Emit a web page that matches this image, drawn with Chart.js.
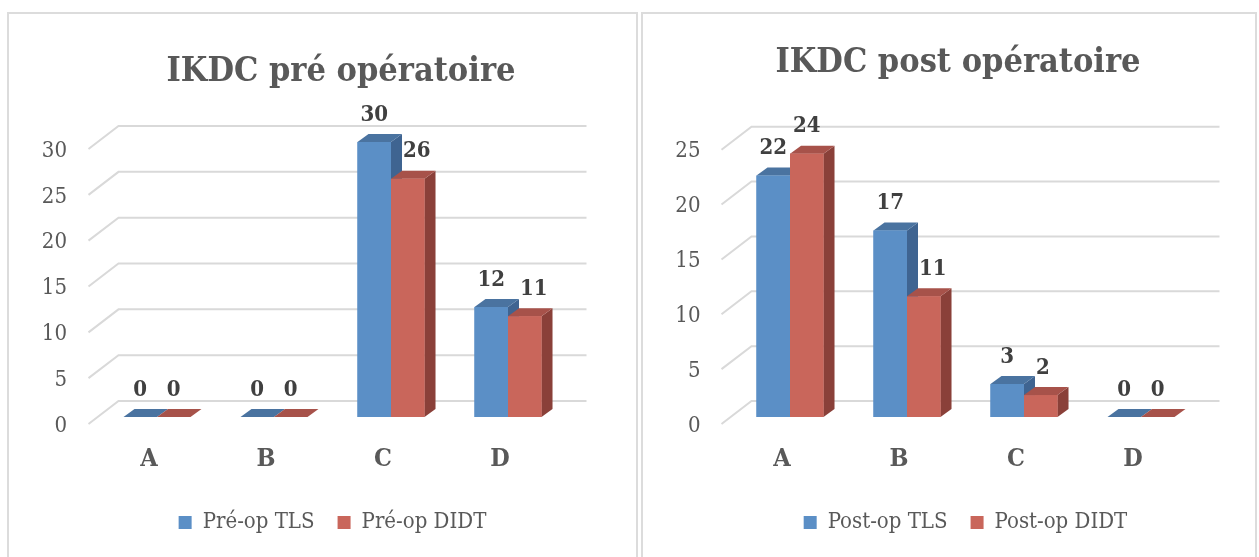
<!DOCTYPE html>
<html lang="fr">
<head>
<meta charset="utf-8">
<title>IKDC pré / post opératoire</title>
<script src="https://cdn.jsdelivr.net/npm/chart.js@4.4.1/dist/chart.umd.min.js"></script>
<style>
    html, body { margin: 0; padding: 0; background: #fff; width: 1259px; height: 557px; overflow: hidden; }
    .frame { position: absolute; top: 12px; height: 600px; border: 2px solid #dcdcdc; box-sizing: border-box; }
    .wrap { position: absolute; top: 0; height: 557px; }
</style>
</head>
<body>
<div class="frame" style="left:7px; width:631px;"></div>
<div class="frame" style="left:641px; width:616px;"></div>
<div class="wrap" style="left:0; width:682px;"><canvas id="preChart"></canvas></div>
<div class="wrap" style="left:640px; width:619px;"><canvas id="postChart"></canvas></div>
<script>
const categories = ['A', 'B', 'C', 'D'];
const preTLS = [0, 0, 30, 12];
const preDIDT = [0, 0, 26, 11];
const postTLS = [22, 17, 3, 0];
const postDIDT = [24, 11, 2, 0];
const preTicks = [0, 5, 10, 15, 20, 25, 30];
const postTicks = [0, 5, 10, 15, 20, 25];

const FONT = "'DejaVu Serif Condensed', 'DejaVu Serif', serif";
const BLUE = { front: '#5b8fc6', top: '#4a73a0', side: '#3f6491' };
const RED = { front: '#c9665b', top: '#a7524a', side: '#8a4039' };
const BAR_DEPTH = [11, -8];   // top/side faces of the bars
const WALL_BACK = [20, -16];  // back wall grid lines
const WALL_FRONT = [-10, 7];  // front end of the floor diagonals

Chart.defaults.font.family = FONT;
Chart.defaults.color = '#595959';

// fake 3D: back wall grid + extruded bars + value labels
const fake3d = {
    id: 'fake3d',
    beforeDatasetsDraw(chart) {
        const { ctx, chartArea: area, scales: { y } } = chart;
        ctx.save();
        ctx.strokeStyle = '#d9d9d9';
        ctx.lineWidth = 2;
        y.ticks.forEach(t => {
            const py = y.getPixelForValue(t.value);
            ctx.beginPath();
            ctx.moveTo(area.left + WALL_FRONT[0], py + WALL_FRONT[1]);
            ctx.lineTo(area.left + WALL_BACK[0], py + WALL_BACK[1]);
            ctx.lineTo(area.right + WALL_BACK[0], py + WALL_BACK[1]);
            ctx.stroke();
        });
        ctx.restore();
    },
    afterDatasetsDraw(chart) {
        const ctx = chart.ctx;
        const [dx, dy] = BAR_DEPTH;
        const sets = chart.data.datasets;
        const face = (pts, color) => {
            ctx.beginPath();
            ctx.moveTo(pts[0][0], pts[0][1]);
            pts.slice(1).forEach(p => ctx.lineTo(p[0], p[1]));
            ctx.closePath();
            ctx.fillStyle = color;
            ctx.fill();
        };
        ctx.save();
        chart.data.labels.forEach((label, j) => {
            sets.forEach((ds, i) => {
                const bar = chart.getDatasetMeta(i).data[j];
                const { x, y, base, width } = bar.getProps(['x', 'y', 'base', 'width'], true);
                const l = x - width / 2, r = x + width / 2;
                face([[r, y], [r + dx, y + dy], [r + dx, base + dy], [r, base]], ds.shade.side);
                face([[l, y], [l + dx, y + dy], [r + dx, y + dy], [r, y]], ds.shade.top);
                ctx.fillStyle = ds.shade.front;
                ctx.fillRect(l, y, width, base - y);
            });
        });

        ctx.font = 'bold 22px ' + FONT;
        ctx.fillStyle = '#404040';
        ctx.textAlign = 'center';
        ctx.textBaseline = 'middle';
        chart.data.labels.forEach((label, j) => {
            sets.forEach((ds, i) => {
                const bar = chart.getDatasetMeta(i).data[j];
                const text = String(ds.data[j]);
                const w = ctx.measureText(text).width;
                let tx = bar.x, ty = bar.y - 27;
                if (i > 0) {
                    // push the label right when it would sit on the taller neighbour
                    const prev = chart.getDatasetMeta(i - 1).data[j];
                    const edge = prev.x + prev.width / 2 + dx;
                    if (ty + 11 > prev.y + dy && tx - w / 2 < edge) tx = edge + w / 2 + 1;
                }
                ctx.fillText(text, tx, ty);
            });
        });
        ctx.restore();
    }
};

document.addEventListener("DOMContentLoaded", function () {
    // BAR CHART - IKDC pre-op
    new Chart(document.getElementById('preChart'), {
        type: 'bar',
        data: {
            labels: categories,
            datasets: [
                { label: 'Pré-op TLS', data: preTLS, backgroundColor: BLUE.front, shade: BLUE },
                { label: 'Pré-op DIDT', data: preDIDT, backgroundColor: RED.front, shade: RED }
            ]
        },
        options: {
            responsive: true,
            maintainAspectRatio: false,
            animation: false,
            layout: { padding: { left: 0, right: 0, top: 0, bottom: 13.5 } },
            datasets: { bar: { categoryPercentage: 0.573, barPercentage: 1, borderWidth: 0 } },
            plugins: {
                title: {
                    display: true,
                    text: 'IKDC pré opératoire',
                    color: '#595959',
                    font: { size: 34, weight: 'bold', lineHeight: 1.2 },
                    padding: { top: 51.6, bottom: 49.6 }
                },
                legend: {
                    position: 'bottom',
                    fullSize: false,
                    labels: { boxWidth: 13, boxHeight: 13, padding: 23, color: '#595959', font: { size: 22 } }
                },
                tooltip: { enabled: false }
            },
            scales: {
                x: {
                    grid: { display: false, drawTicks: false },
                    border: { display: false },
                    ticks: { color: '#595959', font: { size: 25, weight: 'bold' }, padding: 27, labelOffset: -8 },
                    afterFit: s => { s.height = 71.5; }
                },
                y: {
                    min: 0,
                    max: 30,
                    grid: { display: false, drawTicks: false },
                    border: { display: false },
                    afterBuildTicks: s => { s.ticks = preTicks.map(v => ({ value: v })); },
                    ticks: { color: '#595959', font: { size: 22 }, padding: 31.5, labelOffset: 9 },
                    afterFit: s => { s.width = 98.5; }
                },
                pad: {
                    type: 'linear',
                    position: 'right',
                    grid: { display: false, drawTicks: false },
                    border: { display: false },
                    ticks: { display: false },
                    afterFit: s => { s.width = 115.5; }
                }
            }
        },
        plugins: [fake3d]
    });

    // BAR CHART - IKDC post-op
    new Chart(document.getElementById('postChart'), {
        type: 'bar',
        data: {
            labels: categories,
            datasets: [
                { label: 'Post-op TLS', data: postTLS, backgroundColor: BLUE.front, shade: BLUE },
                { label: 'Post-op DIDT', data: postDIDT, backgroundColor: RED.front, shade: RED }
            ]
        },
        options: {
            responsive: true,
            maintainAspectRatio: false,
            animation: false,
            layout: { padding: { left: 29.5, right: 12.5, top: 0, bottom: 13.5 } },
            datasets: { bar: { categoryPercentage: 0.573, barPercentage: 1, borderWidth: 0 } },
            plugins: {
                title: {
                    display: true,
                    text: 'IKDC post opératoire',
                    color: '#595959',
                    font: { size: 34, weight: 'bold', lineHeight: 1.2 },
                    padding: { top: 42.3, bottom: 59.6 }
                },
                legend: {
                    position: 'bottom',
                    fullSize: false,
                    labels: { boxWidth: 13, boxHeight: 13, padding: 23, color: '#595959', font: { size: 22 } }
                },
                tooltip: { enabled: false }
            },
            scales: {
                x: {
                    grid: { display: false, drawTicks: false },
                    border: { display: false },
                    ticks: { color: '#595959', font: { size: 25, weight: 'bold' }, padding: 27, labelOffset: -8 },
                    afterFit: s => { s.height = 71.5; }
                },
                y: {
                    min: 0,
                    max: 25,
                    grid: { display: false, drawTicks: false },
                    border: { display: false },
                    afterBuildTicks: s => { s.ticks = postTicks.map(v => ({ value: v })); },
                    ticks: { color: '#595959', font: { size: 22 }, padding: 31, labelOffset: 9 },
                    afterFit: s => { s.width = 62; }
                },
                pad: {
                    type: 'linear',
                    position: 'right',
                    grid: { display: false, drawTicks: false },
                    border: { display: false },
                    ticks: { display: false },
                    afterFit: s => { s.width = 47; }
                }
            }
        },
        plugins: [fake3d]
    });
});
</script>
</body>
</html>
